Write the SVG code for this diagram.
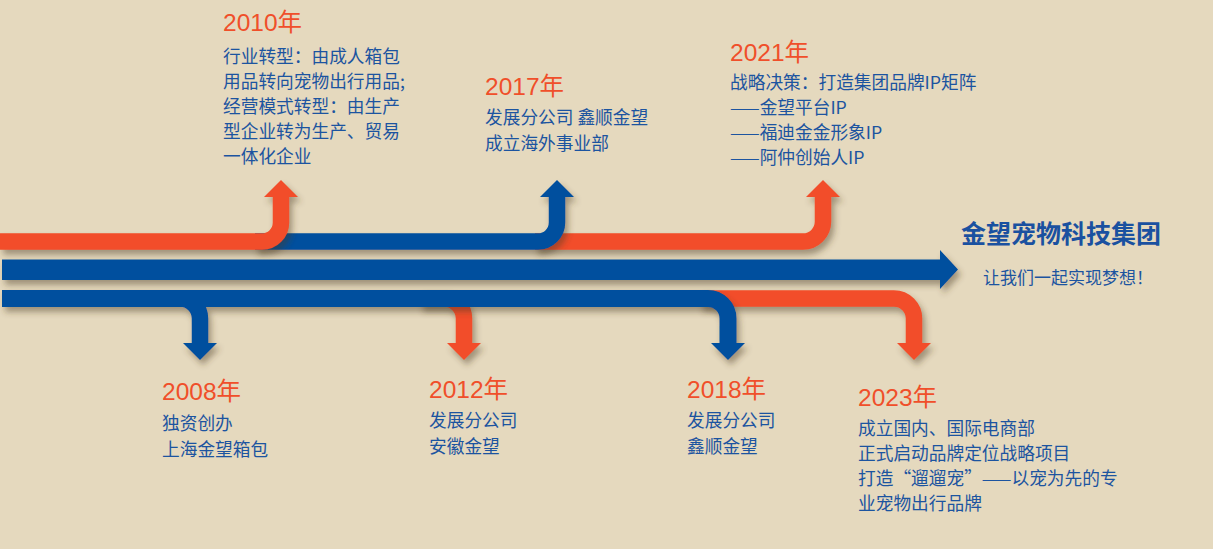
<svg xmlns="http://www.w3.org/2000/svg" width="1213" height="549" viewBox="0 0 1213 549">
<defs>
<filter id="sh" x="-10%" y="-30%" width="120%" height="160%">
<feDropShadow dx="3" dy="5" stdDeviation="3" flood-color="#4a3a20" flood-opacity="0.45"/>
</filter>
<style>
.o{fill:none;stroke:#f24e29;stroke-width:16.5}
.b{fill:none;stroke:#004f9e;stroke-width:16.5}
.bb{fill:none;stroke:#004f9e;stroke-width:17}
.of{fill:#f24e29}
.bf{fill:#004f9e}
.yr{font-family:"Liberation Sans","Noto Sans CJK SC",sans-serif;font-size:24.5px;fill:#f04f2a}
.tx{font-family:"Noto Sans CJK SC",sans-serif;font-size:17.7px;fill:#1c54a0}
.ti{font-family:"Noto Sans CJK SC",sans-serif;font-size:25px;font-weight:bold;fill:#1a51a0}
.st{font-family:"Noto Sans CJK SC",sans-serif;font-size:17px;fill:#1c54a0}
</style>
</defs>
<rect width="1213" height="549" fill="#e5d9be"/>
<g id="connectors">
<g id="arrow-2021" filter="url(#sh)">
<path class="o" d="M535,241.6 H803 A20,20 0 0 0 823,221.6 V196"/>
<polygon class="of" points="806,197 840,197 823,180"/>
</g>
<g id="arrow-2017" filter="url(#sh)">
<path class="b" d="M255,241.6 H538 A19,19 0 0 0 557,222.6 V196"/>
<polygon class="bf" points="540,197 574,197 557,180"/>
</g>
<g id="arrow-2010" filter="url(#sh)">
<path class="o" d="M0,241.6 H262 A19,19 0 0 0 281,222.6 V196"/>
<polygon class="of" points="264,197 298,197 281,180"/>
</g>
<g id="main-arrow" filter="url(#sh)">
<path class="bf" d="M2,259.5 H940 V250 L958,269.5 L940,289 V280 H2 Z"/>
</g>
<g id="arrow-2023" filter="url(#sh)">
<path class="o" d="M700,298.5 H894 A20,20 0 0 1 914,318.5 V344"/>
<polygon class="of" points="897,343 931,343 914,360"/>
</g>
<g id="arrow-2012" filter="url(#sh)">
<path class="o" d="M420,298.5 H444 A20,20 0 0 1 464,318.5 V344"/>
<polygon class="of" points="447,343 481,343 464,360"/>
</g>
<g id="arrow-2018-2008" filter="url(#sh)">
<path class="b" d="M170,298.5 H180 A20,20 0 0 1 200,318.5 V344"/>
<polygon class="bf" points="183,343 217,343 200,360"/>
<path class="bb" d="M2,298.5 H708 A20,20 0 0 1 728,318.5 V344"/>
<polygon class="bf" points="711,343 745,343 728,360"/>
</g>
</g>
<g id="node-2010">
<text class="yr" x="223" y="30.5">2010年</text>
<text class="tx" x="223" y="62.5">行业转型：由成人箱包</text>
<text class="tx" x="223" y="87.5">用品转向宠物出行用品;</text>
<text class="tx" x="223" y="112.5">经营模式转型：由生产</text>
<text class="tx" x="223" y="138">型企业转为生产、贸易</text>
<text class="tx" x="223" y="163">一体化企业</text>
</g>
<g id="node-2017">
<text class="yr" x="485" y="95">2017年</text>
<text class="tx" x="485" y="124">发展分公司 鑫顺金望</text>
<text class="tx" x="485" y="149.5">成立海外事业部</text>
</g>
<g id="node-2021">
<text class="yr" x="730" y="60.5">2021年</text>
<text class="tx" x="730" y="88.5">战略决策：打造集团品牌IP矩阵</text>
<text class="tx" x="730" y="113.5">——金望平台IP</text>
<text class="tx" x="730" y="138.5">——福迪金金形象IP</text>
<text class="tx" x="730" y="163.5">——阿仲创始人IP</text>
</g>
<g id="node-title">
<text class="ti" x="961" y="243">金望宠物科技集团</text>
<text class="st" x="983" y="283.5">让我们一起实现梦想！</text>
</g>
<g id="node-2008">
<text class="yr" x="162" y="400">2008年</text>
<text class="tx" x="162" y="430">独资创办</text>
<text class="tx" x="162" y="455.5">上海金望箱包</text>
</g>
<g id="node-2012">
<text class="yr" x="429" y="397.5">2012年</text>
<text class="tx" x="429" y="427">发展分公司</text>
<text class="tx" x="429" y="453">安徽金望</text>
</g>
<g id="node-2018">
<text class="yr" x="687" y="398">2018年</text>
<text class="tx" x="687" y="427">发展分公司</text>
<text class="tx" x="687" y="453">鑫顺金望</text>
</g>
<g id="node-2023">
<text class="yr" x="858" y="405.5">2023年</text>
<text class="tx" x="858" y="435">成立国内、国际电商部</text>
<text class="tx" x="858" y="460">正式启动品牌定位战略项目</text>
<text class="tx" x="858" y="485">打造“遛遛宠”——以宠为先的专</text>
<text class="tx" x="858" y="510">业宠物出行品牌</text>
</g>
</svg>
